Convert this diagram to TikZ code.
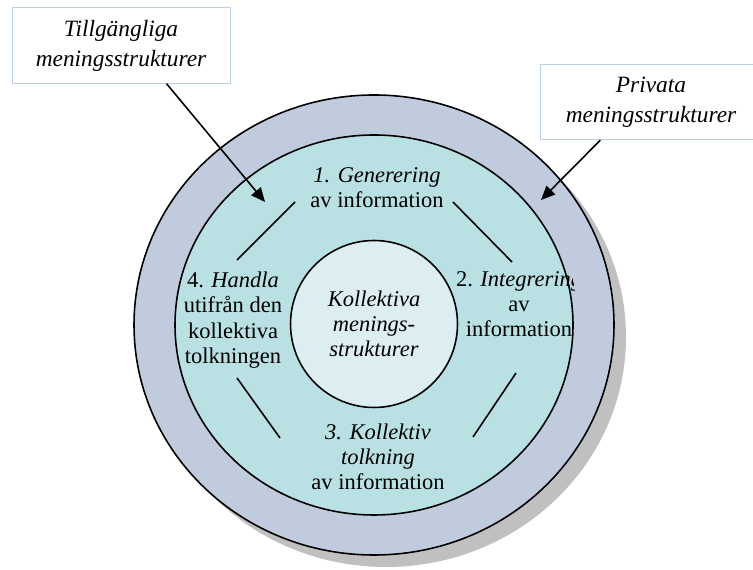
\documentclass[tikz,border=0pt]{standalone}
\usepackage{fontspec}
\setmainfont{Liberation Serif}
\usetikzlibrary{arrows.meta}
\definecolor{ringouter}{RGB}{192,204,222}
\definecolor{ringmiddle}{RGB}{185,224,227}
\definecolor{ringinner}{RGB}{220,238,241}
\definecolor{boxborder}{RGB}{190,206,228}
\definecolor{shadowgray}{RGB}{192,192,192}

\begin{document}
\begin{tikzpicture}[x=0.02cm,y=0.02cm,
  every node/.style={font=\fontsize{12.8}{14.4}\selectfont,align=center},
  labelbox/.style={draw=boxborder,fill=white,line width=0.5pt,minimum height=1.51cm,
    font=\fontsize{13.3}{17}\selectfont\itshape},
  feed/.style={line width=0.9pt,-{Triangle[length=8pt,width=7pt]}}]
  \useasboundingbox (0,0) rectangle (753,570);
  % shadow and rings
  \fill[shadowgray] (386,233) ellipse [x radius=240,y radius=230];
  \filldraw[fill=ringouter,line width=0.9pt] (374,245) ellipse [x radius=240,y radius=230];
  \filldraw[fill=ringmiddle,line width=0.9pt] (374,245) ellipse [x radius=199,y radius=190];
  \node[draw,circle,fill=ringinner,line width=0.9pt,minimum size=3.34cm,inner sep=0pt,
    font=\fontsize{12.8}{14.4}\selectfont\itshape] (core) at (374,246)
    {Kollektiva\\menings-\\strukturer};
  % stages
  \begin{scope}
    \clip (374,245) ellipse [x radius=204,y radius=194];
    \node (gen) at (377,382) {\textit{1. Generering}\\av information};
    \node (integ) at (519,266) {2. \textit{Integrering}\\av\\information};
    \node (tolk) at (378,113) {\textit{3. Kollektiv}\\\textit{tolkning}\\av information};
    \node (handla) at (233,250) {4. \textit{Handla}\\utifrån den\\kollektiva\\tolkningen};
  \end{scope}
  \coordinate (tl1) at (237,310); \coordinate (tl2) at (295,368);
  \coordinate (tr1) at (453,368); \coordinate (tr2) at (512,308);
  \coordinate (br1) at (516,197); \coordinate (br2) at (473,133);
  \coordinate (bl1) at (237,192); \coordinate (bl2) at (280,132);
  \draw[line width=0.9pt] (tl1) -- (tl2);
  \draw[line width=0.9pt] (tr1) -- (tr2);
  \draw[line width=0.9pt] (br1) -- (br2);
  \draw[line width=0.9pt] (bl1) -- (bl2);
  % label boxes
  \node[labelbox,minimum width=4.36cm] (tbox) at (121,524.5)
    {Tillgängliga\\meningsstrukturer};
  \node[labelbox,minimum width=4.44cm] (pbox) at (651,468)
    {Privata\\meningsstrukturer};
  \coordinate (tin) at (265,368);
  \coordinate (pin) at (541,370);
  \draw[feed] (tbox.-40) -- (tin);
  \draw[feed] (pbox.-143) -- (pin);
\end{tikzpicture}
\end{document}
